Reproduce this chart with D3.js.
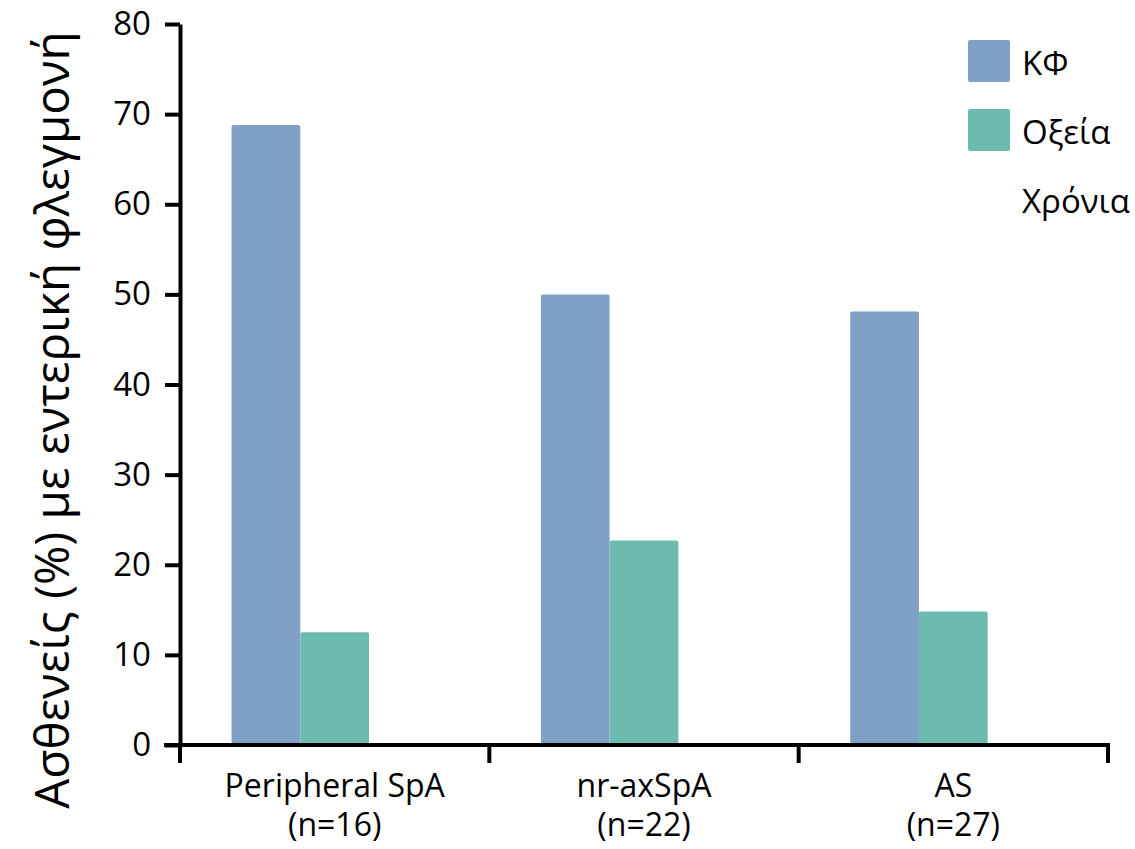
<!DOCTYPE html>
<html>
<head>
<meta charset="utf-8">
<script src="https://cdn.jsdelivr.net/npm/d3@7"></script>
<style>
  body { margin: 0; background: #fff; }
  text { font-family: "Open Sans", sans-serif; fill: #000; }
</style>
</head>
<body>
<script>
// categories and series (values in %)
var categories = ["Peripheral SpA", "nr-axSpA", "AS"];
var categoryN = ["(n=16)", "(n=22)", "(n=27)"];
var seriesNames = ["ΚΦ", "Οξεία", "Χρόνια"];
var kfValues = [68.8, 50.0, 48.1];
var acuteValues = [12.5, 22.7, 14.8];
var chronicValues = [0, 0, 0];
var seriesColors = ["#7ea1c5", "#6cbbae", "#ffffff"];
var yTicks = [0, 10, 20, 30, 40, 50, 60, 70, 80];
var yLabel = "Ασθενείς (%) με εντερική φλεγμονή";

var margin = {top: 24, right: 27, bottom: 104, left: 180},
    width = 1135 - margin.left - margin.right,
    height = 849 - margin.top - margin.bottom;

var table = categories.map(function(c, i) {
    return {cat: c, n: categoryN[i], values: [kfValues[i], acuteValues[i], chronicValues[i]]};
});

var svg = d3.select("body").append("svg")
    .attr("width", 1135)
    .attr("height", 849)
    .append("g")
    .attr("transform", "translate(" + margin.left + "," + margin.top + ")");

var x0 = d3.scaleBand().domain(categories).range([0, width]).padding(0);
var x1 = d3.scaleBand().domain(seriesNames).range([0, x0.bandwidth()])
    .paddingInner(0).paddingOuter(0.75);
var y = d3.scaleLinear().domain([0, 80]).range([height, 0]);

// bars
var groups = svg.selectAll("g.cat")
    .data(table)
    .enter()
    .append("g")
    .attr("class", "cat")
    .attr("transform", function(d) { return "translate(" + x0(d.cat) + ",0)"; });

groups.selectAll("rect")
    .data(function(d) {
        return d.values.map(function(v, j) { return {name: seriesNames[j], value: v, j: j}; });
    })
    .enter()
    .append("rect")
    .attr("x", function(d) { return x1(d.name); })
    .attr("y", function(d) { return y(d.value); })
    .attr("width", x1.bandwidth())
    .attr("height", function(d) { return height - y(d.value); })
    .attr("rx", 2)
    .style("fill", function(d) { return seriesColors[d.j]; });

// y axis
var yAxis = svg.append("g")
    .call(d3.axisLeft(y).tickValues(yTicks).tickSize(15).tickPadding(14).tickSizeOuter(0));
yAxis.select(".domain").attr("stroke-width", 4);
yAxis.selectAll(".tick line").attr("stroke-width", 4);
yAxis.selectAll(".tick text").style("font-size", "33px");

// x axis (ticks on category boundaries)
var xAxis = svg.append("g")
    .attr("transform", "translate(0," + height + ")");
xAxis.append("line")
    .attr("x1", -16).attr("x2", width + 2)
    .attr("y1", 0).attr("y2", 0)
    .attr("stroke", "#000").attr("stroke-width", 4);
var bounds = categories.map(function(c) { return x0(c); }).concat([width]);
xAxis.selectAll("line.tk")
    .data(bounds)
    .enter()
    .append("line")
    .attr("class", "tk")
    .attr("x1", function(d) { return d; })
    .attr("x2", function(d) { return d; })
    .attr("y1", 0).attr("y2", 18)
    .attr("stroke", "#000").attr("stroke-width", 4);

var lbl = xAxis.selectAll("text.cat")
    .data(table)
    .enter()
    .append("text")
    .attr("class", "cat")
    .attr("text-anchor", "middle")
    .attr("transform", function(d) { return "translate(" + (x0(d.cat) + x0.bandwidth() / 2) + ",0)"; })
    .style("font-size", "32px");
lbl.append("tspan").attr("x", 0).attr("y", 52).text(function(d) { return d.cat; });
lbl.append("tspan").attr("x", 0).attr("y", 91).text(function(d) { return d.n; });

// y label
svg.append("text")
    .attr("transform", "translate(" + (-128) + "," + (420 - margin.top) + ") rotate(-90)")
    .attr("text-anchor", "middle")
    .attr("dy", "0.35em")
    .style("font-size", "47.5px")
    .text(yLabel);

// legend
var legend = svg.append("g")
    .attr("transform", "translate(" + (968 - margin.left) + "," + (40 - margin.top) + ")");
var li = legend.selectAll("g")
    .data(seriesNames)
    .enter()
    .append("g")
    .attr("transform", function(d, i) { return "translate(0," + (i * 69) + ")"; });
li.append("rect")
    .attr("width", 42).attr("height", 42).attr("rx", 2)
    .style("fill", function(d, i) { return seriesColors[i]; });
li.append("text")
    .attr("x", 54).attr("y", 23)
    .attr("dy", "0.35em")
    .style("font-size", "33px")
    .text(function(d) { return d; });
</script>
</body>
</html>
